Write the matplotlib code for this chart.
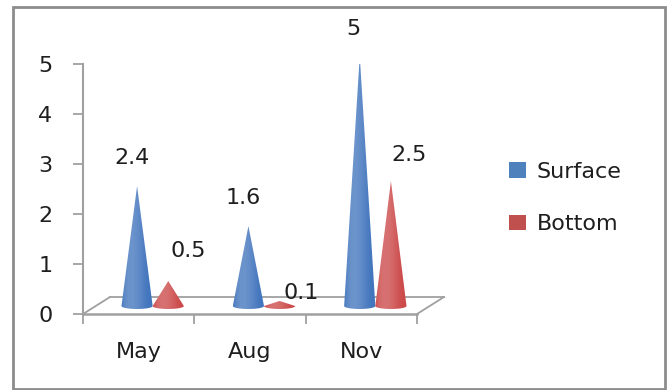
import numpy as np
import matplotlib
matplotlib.use("Agg")
import matplotlib.pyplot as plt
import matplotlib.patches as mpatches
import matplotlib.transforms as mtransforms
from matplotlib.colors import to_rgb

# ---------- data ----------
months = ["May", "Aug", "Nov"]
surface = [2.4, 1.6, 5.0]
bottom = [0.5, 0.1, 2.5]
series_names = ["Surface", "Bottom"]

COL_BLUE = "#4275BD"
COL_RED = "#CC4A4A"
GRID = "#A0A0A0"
TXT = "#1E1E1E"

W, H = 671, 390
fig = plt.figure(figsize=(W / 100, H / 100), dpi=100)
fig.patch.set_facecolor("white")

# plot area: front edge of floor = value 0
ax = fig.add_axes([83 / W, (H - 314) / H, 334 / W, 250 / H])
ax.set_xlim(-0.5, 2.5)
ax.set_ylim(0, 5)
ax.set_facecolor("none")
for s in ("top", "right", "bottom"):
    ax.spines[s].set_visible(False)
ax.spines["left"].set_color(GRID)
ax.spines["left"].set_linewidth(1.5)
ax.set_yticks(range(6))
ax.tick_params(axis="y", length=7, width=1.3, color=GRID, pad=15,
               labelsize=16, labelcolor=TXT)
ax.set_xticks(range(len(months)))
ax.set_xticklabels(months)
ax.set_xticks([-0.5, 0.5, 1.5, 2.5], minor=True)
ax.tick_params(axis="x", which="major", length=0, pad=20,
               labelsize=16, labelcolor=TXT)
ax.tick_params(axis="x", which="minor", length=7, width=1.3, color=GRID)

# ---------- floor (parallelogram) ----------
back = mtransforms.ScaledTranslation(0.27, 0.17, fig.dpi_scale_trans)
tb = ax.transData + back
ax.plot([-0.5, 2.5], [0, 0], color=GRID, lw=1.8, clip_on=False, zorder=1)
ax.plot([-0.5, 2.5], [0, 0], color=GRID, lw=1.3, clip_on=False, zorder=1,
        transform=tb)
for xe in (-0.5, 2.5):
    p0 = ax.transData.transform((xe, 0))
    p1 = tb.transform((xe, 0))
    fig.add_artist(plt.Line2D([p0[0] / W, p1[0] / W], [p0[1] / H, p1[1] / H],
                              color=GRID, lw=1.3, transform=fig.transFigure,
                              zorder=1))

# ---------- cones ----------
mid = ax.transData + mtransforms.ScaledTranslation(0.14, 0.08, fig.dpi_scale_trans)
half_w = 0.14      # base half-width in category units
ell_b = 0.06       # base ellipse semi-minor in value units
shift = 0.14       # series offset from category centre


def gradient(col, n=64):
    r = np.array(to_rgb(col))
    u = np.linspace(-1, 1, n)
    th = np.arccos(u)
    light = np.cos(th - 0.62 * np.pi)
    rows = []
    for l in light:
        if l >= 0:
            c = r + (1 - r) * 0.22 * l ** 3
        else:
            c = r * (1 + 0.3 * l)
        rows.append(c)
    return np.array(rows)[None, :, :]


def cone(cx, h, col):
    n = 60
    th = np.linspace(np.pi, 0, n + 1)
    pts = [(cx, h)] + [(cx + half_w * np.cos(t), -ell_b * np.sin(t)) for t in th]
    poly = mpatches.Polygon(pts, closed=True, facecolor="none", edgecolor="none",
                            transform=mid)
    ax.add_patch(poly)
    im = ax.imshow(gradient(col), extent=(cx - half_w, cx + half_w, -ell_b, h),
                   transform=mid, aspect="auto", interpolation="bilinear",
                   zorder=3)
    im.set_clip_path(poly)


label_off = {  # (dx, dy) in px from apex
    "Surface": [(-5, 28), (-5, 28), (-6, 27)],
    "Bottom": [(20, 30), (22, 8), (18, 26)],
}

for i, m in enumerate(months):
    for name, vals, col, sgn in (("Surface", surface, COL_BLUE, -1),
                                 ("Bottom", bottom, COL_RED, 1)):
        cx = i + sgn * shift
        cone(cx, vals[i], col)
        dx, dy = label_off[name][i]
        ax.annotate(f"{vals[i]:g}", xy=(cx, vals[i]), xycoords=mid,
                    xytext=(dx * 0.72, dy * 0.72), textcoords="offset points",
                    ha="center", va="center", fontsize=16, color=TXT,
                    annotation_clip=False, zorder=5)

ax.set_xlim(-0.5, 2.5)
ax.set_ylim(0, 5)

# ---------- legend ----------
handles = [mpatches.Patch(facecolor="#4F81BD", edgecolor="none"),
           mpatches.Patch(facecolor="#C0504D", edgecolor="none")]
fig.legend(handles, series_names, loc="center left",
           bbox_to_anchor=(498 / W, 1 - 198 / H), frameon=False,
           fontsize=16, handlelength=0.75, handleheight=0.7,
           handletextpad=0.5, labelspacing=1.45, borderpad=0,
           labelcolor=TXT)

# ---------- outer border ----------
fig.add_artist(mpatches.Rectangle((13 / W, 1 - 389 / H), 652 / W, 382 / H,
                                  transform=fig.transFigure, fill=False,
                                  edgecolor="#8C8C8C", lw=2))

fig.savefig("out.png", dpi=100, facecolor="white")
